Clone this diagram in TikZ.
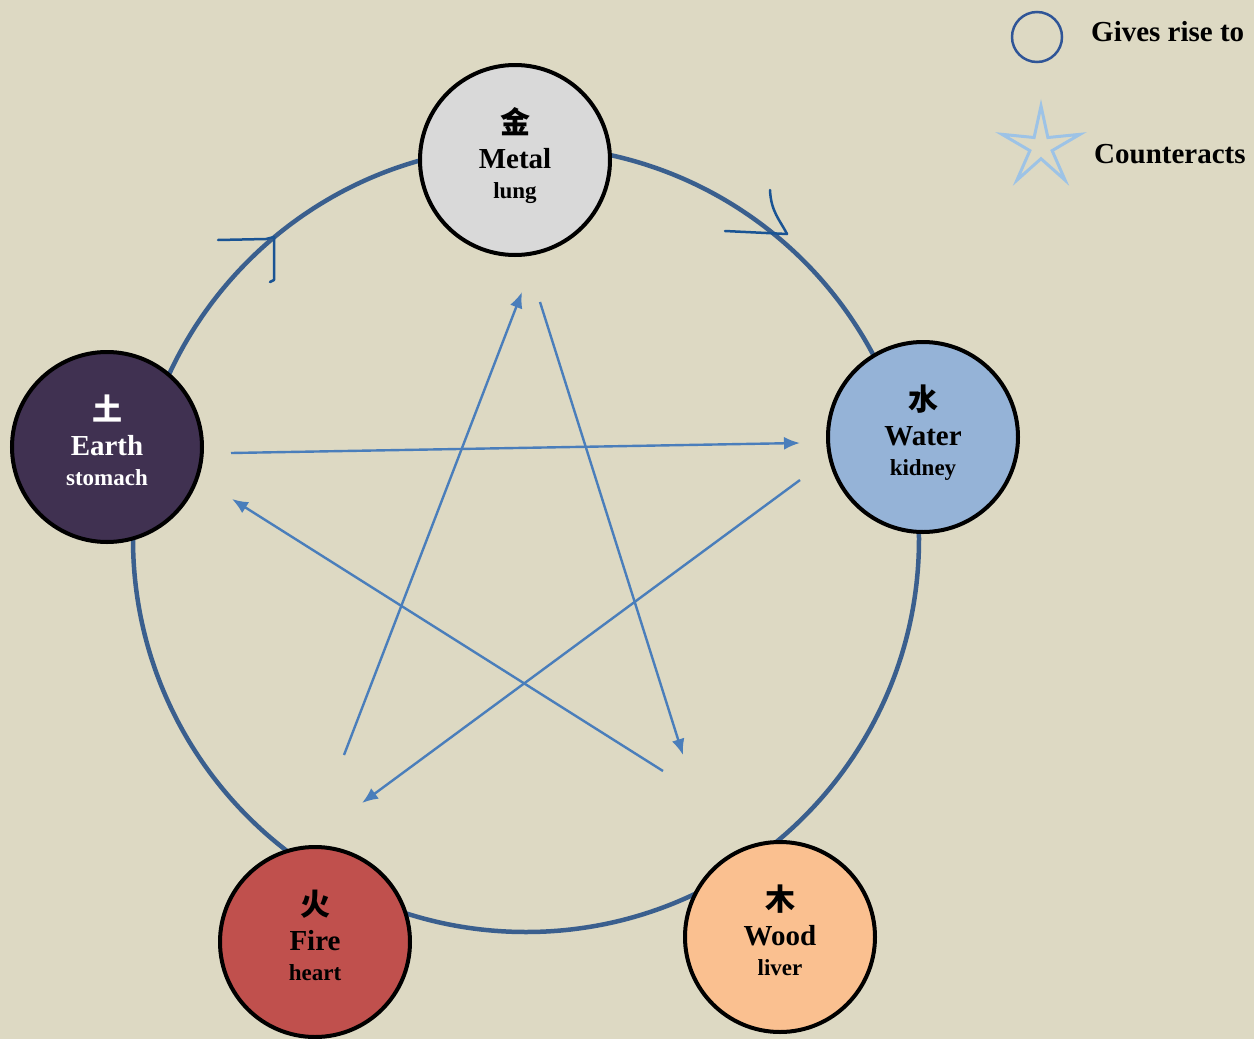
\documentclass[tikz,border=0pt]{standalone}
\usepackage{fontspec}
\setmainfont{Liberation Serif}
\newfontfamily\cjk{Noto Sans CJK SC}
\usetikzlibrary{arrows.meta,positioning,calc,shapes.geometric}
\definecolor{Paper}{HTML}{DDD9C3}
\definecolor{MetalGrey}{HTML}{D9D9D9}
\definecolor{WaterBlue}{HTML}{95B3D7}
\definecolor{WoodPeach}{HTML}{FAC090}
\definecolor{FireRed}{HTML}{C0504D}
\definecolor{EarthPlum}{HTML}{403151}
\definecolor{Ring}{HTML}{3A5F8E}
\definecolor{Arrow}{HTML}{4A7EBB}
\definecolor{Scribble}{HTML}{1A5494}
\definecolor{LegendRing}{HTML}{2F5597}
\definecolor{LegendStar}{HTML}{9DC3E6}
\tikzset{
 phase/.style={circle,draw=black,line width=4pt,minimum size=190pt,inner sep=0pt,align=center,font=\bfseries\fontsize{29}{35}\selectfont},
 ring/.style={draw=Ring,line width=4.5pt},
 ctrl/.style={-{Latex[length=16pt,width=13pt]},draw=Arrow,line width=2.4pt},
 scribble/.style={draw=Scribble,line width=2.5pt,line cap=round,line join=round},
 legtext/.style={anchor=base west,inner sep=0pt,font=\bfseries\fontsize{29}{32}\selectfont}
}
\newcommand{\phasetext}[3]{{\cjk\fontsize{30}{30}\selectfont #1}\\[0pt]{#2}\\[-5pt]{\fontsize{23}{23}\selectfont\rule[-14pt]{0pt}{1pt}#3}}

\begin{document}
\begin{tikzpicture}[x=1pt,y=-1pt]
\fill[Paper] (0,0) rectangle (1254,1039);
\useasboundingbox (0,0) rectangle (1254,1039);
% generating cycle
\draw[ring] (526,539) circle (393pt);
\foreach \nm/\x/\y/\col/\ink/\cj/\en/\org in {metal/515/160/MetalGrey/black/金/Metal/lung,water/923/437/WaterBlue/black/水/Water/kidney,wood/780/937/WoodPeach/black/木/Wood/liver,fire/315/942/FireRed/black/火/Fire/heart,earth/107/447/EarthPlum/white/土/Earth/stomach} {
 \node[phase,fill=\col,text=\ink] (\nm) at (\x,\y) {\phasetext{\cj}{\en}{\org}};
}
% hand drawn arrow marks
\draw[scribble] (218,240) -- (266,239) -- (274,237) -- (274,280) -- (270,282);
\draw[scribble] (725,231) -- (787,234);
\draw[scribble] (770,190) .. controls (771,212) and (780,220) .. (787,234);
% controlling star
\foreach \nm/\x/\y in {earthout/231/453,waterin/800/443,waterout/800/480,firein/362/803,fireout/344/755,metalin/522/292,metalout/540/302,woodin/683/755,woodout/663/771,earthin/232/499}
 \coordinate (\nm) at (\x,\y);
\foreach \a/\b in {earthout/waterin,waterout/firein,fireout/metalin,metalout/woodin,woodout/earthin}
 \draw[ctrl] (\a) -- (\b);
% legend
\node[circle,draw=LegendRing,line width=2.5pt,minimum size=50pt,inner sep=0pt] (legring) at (1037,37) {};
\node[star,star points=5,star point ratio=3.5,minimum size=82pt,inner sep=0pt,draw=LegendStar,line width=3pt] (legstar) at (1041,147) {};
\node[legtext] (legrise) at (1091,41) {Gives rise to};
\node[legtext] (legcounter) at (1094,163) {Counteracts};
\end{tikzpicture}
\end{document}
